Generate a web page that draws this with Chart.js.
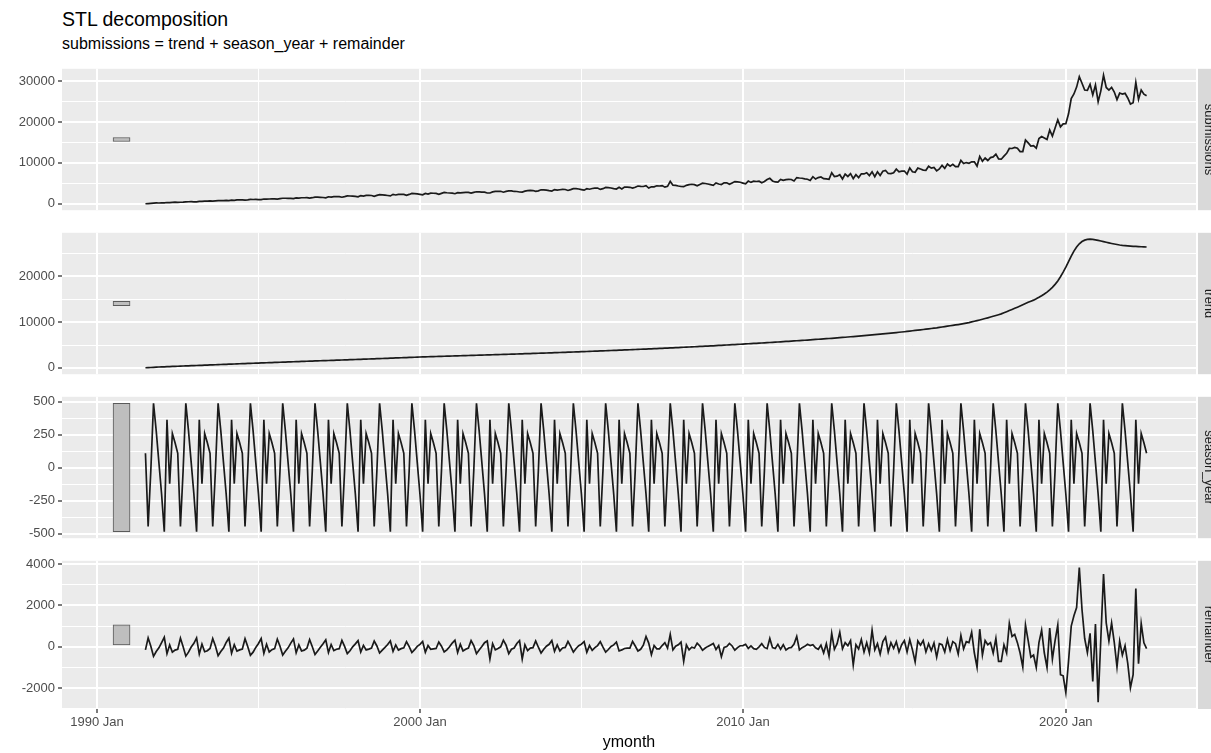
<!DOCTYPE html>
<html>
<head>
<meta charset="utf-8">
<title>STL decomposition</title>
<script src="https://cdn.jsdelivr.net/npm/chart.js@4.4.1/dist/chart.umd.min.js"></script>
<style>
  body { margin: 0; background: #fff; width: 1211px; height: 753px; overflow: hidden; position: relative;
         font-family: "Liberation Sans", Arial, sans-serif; }
  canvas { position: absolute; left: 0; }
  .title { position: absolute; left: 62px; top: 10px; font-size: 19.5px; line-height: 1; color: #000; white-space: nowrap; }
  .subtitle { position: absolute; left: 62px; top: 36px; font-size: 16px; line-height: 1; color: #000; white-space: nowrap; }
</style>
</head>
<body>
<div class="title">STL decomposition</div>
<div class="subtitle">submissions = trend + season_year + remainder</div>
<canvas id="cSubmissions" width="1211" height="163" style="top:58px"></canvas>
<canvas id="cTrend" width="1211" height="163" style="top:222px"></canvas>
<canvas id="cSeason" width="1211" height="163" style="top:386px"></canvas>
<canvas id="cRemainder" width="1211" height="203" style="top:550px"></canvas>
<script>
// monthly series, 1991 Jul .. 2022 Jul (one row per calendar year)
const startYear = 1991, startMonth = 7;

const trend = [
  30, 60, 95, 130, 165, 195,
  220, 245, 270, 295, 318, 342, 365, 390, 413, 437, 460, 480,
  500, 525, 550, 574, 598, 622, 646, 670, 694, 718, 743, 767,
  790, 812, 835, 858, 880, 903, 925, 948, 970, 993, 1015, 1038,
  1060, 1082, 1104, 1125, 1147, 1168, 1190, 1212, 1234, 1256, 1278, 1300,
  1320, 1342, 1364, 1386, 1407, 1429, 1450, 1472, 1494, 1515, 1537, 1558,
  1580, 1602, 1623, 1645, 1667, 1688, 1710, 1732, 1753, 1775, 1797, 1818,
  1840, 1862, 1883, 1905, 1927, 1948, 1970, 1992, 2013, 2035, 2057, 2078,
  2100, 2123, 2146, 2170, 2193, 2216, 2240, 2263, 2287, 2310, 2333, 2357,
  2380, 2398, 2417, 2435, 2453, 2472, 2490, 2508, 2527, 2545, 2563, 2582,
  2600, 2618, 2637, 2655, 2673, 2692, 2710, 2728, 2747, 2765, 2783, 2802,
  2820, 2838, 2857, 2875, 2893, 2912, 2930, 2948, 2967, 2985, 3003, 3022,
  3040, 3060, 3080, 3100, 3120, 3140, 3160, 3180, 3200, 3220, 3240, 3260,
  3280, 3302, 3323, 3345, 3367, 3388, 3410, 3432, 3453, 3475, 3497, 3518,
  3540, 3563, 3587, 3610, 3633, 3657, 3680, 3703, 3727, 3750, 3773, 3797,
  3820, 3845, 3870, 3895, 3920, 3945, 3970, 3995, 4020, 4045, 4070, 4095,
  4120, 4147, 4175, 4202, 4230, 4257, 4285, 4312, 4340, 4367, 4395, 4422,
  4450, 4479, 4508, 4537, 4567, 4596, 4625, 4654, 4683, 4712, 4742, 4771,
  4800, 4833, 4867, 4900, 4933, 4967, 5000, 5033, 5067, 5100, 5133, 5167,
  5200, 5235, 5270, 5305, 5340, 5375, 5410, 5445, 5480, 5515, 5550, 5585,
  5620, 5658, 5697, 5735, 5773, 5812, 5850, 5888, 5927, 5965, 6003, 6042,
  6080, 6123, 6167, 6210, 6253, 6297, 6340, 6383, 6427, 6470, 6513, 6557,
  6600, 6650, 6700, 6750, 6800, 6850, 6900, 6950, 7000, 7050, 7100, 7150,
  7200, 7258, 7317, 7375, 7433, 7492, 7550, 7608, 7667, 7725, 7783, 7842,
  7900, 7970, 8040, 8110, 8180, 8250, 8320, 8390, 8460, 8535, 8605, 8680,
  8750, 8840, 8930, 9020, 9110, 9200, 9290, 9380, 9470, 9570, 9680, 9790,
  9900, 10040, 10180, 10320, 10470, 10620, 10780, 10940, 11110, 11280, 11450, 11620,
  11800, 12040, 12280, 12520, 12760, 13010, 13260, 13520, 13780, 14050, 14320, 14560,
  14800, 15100, 15420, 15760, 16140, 16560, 17050, 17600, 18250, 19000, 19900, 20900,
  22000, 23200, 24400, 25500, 26400, 27100, 27600, 27900, 28050, 28100, 28050, 27950,
  27850, 27720, 27580, 27440, 27300, 27170, 27050, 26940, 26840, 26760, 26700, 26650,
  26600, 26560, 26520, 26490, 26460, 26430, 26400
];

// season_year, Jan .. Dec
const seasonByMonth = [-200, -485, 365, -120, 260, 190, 110, -445, -20, 490, 280, 40];

const remainder = [
  -150, 430, 30, -460, -230, -50,
  200, 460, -330, 90, -260, -160, -120, 420, 0, -450, -260, -10,
  170, 430, -350, 130, -240, -190, -80, 400, 40, -430, -230, -60,
  210, 420, -310, 100, -210, -150, -110, 390, 10, -410, -260, -30,
  160, 400, -320, 120, -250, -140, -90, 370, 30, -400, -220, -50,
  180, 380, -290, 90, -200, -160, -70, 350, 0, -370, -200, -20,
  150, 340, -280, 110, -180, -120, -90, 310, 20, -330, -190, 0,
  140, 300, -250, 70, -150, -110, -60, 280, 40, -300, -160, -30,
  110, 280, -220, 90, -160, -90, -50, 250, 10, -280, -140, 20,
  120, 260, -260, 60, -120, -100, -80, 230, 30, -250, -150, 0,
  180, 320, -280, 120, -200, -120, -60, 300, 60, -330, -150, 10,
  200, 280, -590, 150, -150, -80, 0, 320, 80, -330, -120, -60,
  160, 300, -590, 100, -180, -60, -40, 280, -20, -300, -120, 30,
  120, 300, -220, 90, -200, -60, -30, 260, 20, -260, -80, 50,
  130, 250, -260, 60, -170, -40, 60, 250, -20, -260, -130, 20,
  90, 230, -200, -150, -80, -60, -60, 260, 40, -200, -120, 80,
  500, 180, -380, 60, -100, -100, 60, 200, -60, 600, -150, 30,
  100, 230, -700, 90, -150, -20, -60, 180, 40, -170, -60, 20,
  90, 160, -130, 60, -480, -30, 10, 160, 40, -160, -40, 50,
  60, 120, -80, 40, -90, -120, 0, 150, -30, -90, 400, -40,
  -80, 120, -120, 100, -150, -60, -30, 130, 500, -150, -40, 20,
  120, 60, 100, -50, -120, 80, -300, 150, -450, 650, -120, 150,
  700, -100, 200, 50, 300, -880, 100, -100, 350, -250, 200, -300,
  800, -150, 150, -350, 250, 470, -250, 200, -80, 250, -250, 100,
  300, -250, 350, -150, -730, 280, 80, 300, -250, 150, -180, 180,
  -500, 150, 100, -250, 350, -180, 250, 150, -350, 550, -100, 250,
  200, 700, -300, -980, 850, -400, 300, 100, 200, -300, 400, -700,
  -700, 100, -300, 1130, 500, 600, 200, -300, -980, 1050, 300, -500,
  -400, -1000, 200, 800, -300, -1000, 900, -600, 300, 1050, -1350, -1400,
  -2220, -700, 1000, 1500, 1900, 3830, 1800, 400, -280, 650, -1670, 1100,
  -2680, 400, 3520, 1150, 280, 1150, 200, -980, 280, -400, 50, -800,
  -1980, -1350, 2820, -820, 1120, 190, -90
];

const xMajor = [1990, 2000, 2010, 2020];
const xMinor = [1995, 2005, 2015];
const xRange = [1988.916, 2024.03];
const scaleBarYear = 1990.76;

// ymonth as decimal years
const ymonth = trend.map((_, i) => {
  const m = startMonth - 1 + i;
  return startYear + Math.floor(m / 12) + (m % 12) / 12;
});
const seasonYear = ymonth.map((_, i) => seasonByMonth[(startMonth - 1 + i) % 12]);
const submissions = trend.map((t, i) => t + seasonYear[i] + remainder[i]);

Chart.defaults.font.family = '"Liberation Sans", Arial, sans-serif';
Chart.defaults.animation = false;

const smallestRange = Math.max(...seasonYear) - Math.min(...seasonYear);

const panelBg = {
  id: 'panelBg',
  beforeDraw(chart) {
    const { ctx, chartArea: a } = chart;
    ctx.save();
    ctx.fillStyle = '#EBEBEB';
    ctx.fillRect(a.left, a.top, a.right - a.left, a.bottom - a.top);
    ctx.restore();
  },
  afterDraw(chart, args, opts) {
    const { ctx, chartArea: a } = chart;
    ctx.save();
    ctx.fillStyle = '#D9D9D9';
    ctx.fillRect(a.right + 2, a.top, 30, a.bottom - a.top);
    ctx.translate(a.right + 9, (a.top + a.bottom) / 2);
    ctx.rotate(Math.PI / 2);
    ctx.fillStyle = '#1A1A1A';
    ctx.font = '13px "Liberation Sans", Arial, sans-serif';
    ctx.textAlign = 'center';
    ctx.textBaseline = 'alphabetic';
    ctx.fillText(opts.label, 0, 0);
    ctx.restore();
  }
};

function makePanel(id, label, values, yMajor, yMinor, isBottom) {
  const lo = Math.min(...values), hi = Math.max(...values);
  const pad = 0.05 * (hi - lo);
  const mid = (lo + hi) / 2;
  const points = values.map((v, i) => ({ x: ymonth[i], y: v }));

  new Chart(document.getElementById(id), {
    type: 'line',
    data: {
      datasets: [
        {
          type: 'bar',
          data: [{ x: scaleBarYear, y: [mid - smallestRange / 2, mid + smallestRange / 2] }],
          backgroundColor: '#BEBEBE',
          borderColor: '#5A5A5A',
          borderWidth: 1,
          borderSkipped: false,
          barThickness: 17,
          order: 2
        },
        {
          type: 'line',
          data: points,
          borderColor: '#1A1A1A',
          borderWidth: 1.7,
          pointRadius: 0,
          tension: 0,
          order: 1
        }
      ]
    },
    options: {
      responsive: false,
      devicePixelRatio: 1,
      layout: { padding: { top: 4, bottom: isBottom ? 0 : 4, left: 0, right: 15 } },
      plugins: { legend: { display: false }, tooltip: { enabled: false }, panelBg: { label } },
      scales: {
        x: {
          type: 'linear',
          offset: false,
          min: xRange[0],
          max: xRange[1],
          afterBuildTicks: s => { s.ticks = [...xMajor, ...xMinor].sort((a, b) => a - b).map(v => ({ value: v })); },
          afterFit: s => { s.height = isBottom ? 44 : 0; },
          border: { display: false },
          grid: {
            offset: false,
            color: '#FFFFFF',
            lineWidth: c => (c.tick && xMajor.includes(c.tick.value)) ? 2 : 1,
            drawTicks: isBottom,
            tickLength: 4,
            tickWidth: 1.3,
            tickColor: c => (c.tick && xMajor.includes(c.tick.value)) ? '#333333' : 'rgba(0,0,0,0)'
          },
          ticks: {
            display: isBottom,
            autoSkip: false,
            maxRotation: 0,
            padding: 2,
            color: '#4D4D4D',
            font: { size: 13 },
            callback: v => xMajor.includes(v) ? v + ' Jan' : ''
          },
          title: {
            display: isBottom,
            text: 'ymonth',
            color: '#000000',
            font: { size: 16 },
            padding: { top: 0, bottom: 1 }
          }
        },
        y: {
          type: 'linear',
          min: lo - pad,
          max: hi + pad,
          afterBuildTicks: s => { s.ticks = [...yMajor, ...yMinor].sort((a, b) => a - b).map(v => ({ value: v })); },
          afterFit: s => { s.width = 62; },
          border: { display: false },
          grid: {
            color: '#FFFFFF',
            lineWidth: c => (c.tick && yMajor.includes(c.tick.value)) ? 2 : 1,
            tickLength: 4,
            tickWidth: 1.3,
            tickColor: c => (c.tick && yMajor.includes(c.tick.value)) ? '#333333' : 'rgba(0,0,0,0)'
          },
          ticks: {
            autoSkip: false,
            padding: 3,
            color: '#4D4D4D',
            font: { size: 13 },
            callback: v => yMajor.includes(v) ? String(v) : ''
          }
        }
      }
    },
    plugins: [panelBg]
  });
}

makePanel('cSubmissions', 'submissions', submissions, [0, 10000, 20000, 30000], [5000, 15000, 25000], false);
makePanel('cTrend', 'trend', trend, [0, 10000, 20000], [5000, 15000, 25000], false);
makePanel('cSeason', 'season_year', seasonYear, [-500, -250, 0, 250, 500], [-375, -125, 125, 375], false);
makePanel('cRemainder', 'remainder', remainder, [-2000, 0, 2000, 4000], [-3000, -1000, 1000, 3000], true);
</script>
</body>
</html>
